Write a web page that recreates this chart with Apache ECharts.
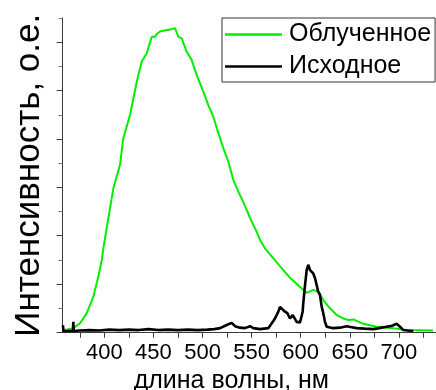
<!DOCTYPE html>
<html>
<head>
<meta charset="utf-8">
<script src="https://cdn.jsdelivr.net/npm/echarts@6/dist/echarts.min.js"></script>
<style>
  html, body { margin: 0; padding: 0; background: #fff; }
  #chart { width: 436px; height: 390px; }
</style>
</head>
<body>
<div id="chart"></div>
<script>
// Spectra: wavelength (nm) and intensity (arb. units)
const irradiatedWl = [360.0, 368.4, 375.3, 382.1, 388.8, 393.9, 397.4, 399.0, 405.8, 409.2, 416.0, 419.3, 426.2, 433.0, 438.1, 443.2, 448.3, 450.0, 451.7, 453.4, 455.0, 456.7, 458.4, 463.5, 466.9, 472.0, 473.7, 475.4, 478.8, 483.9, 489.0, 494.1, 500.8, 505.9, 511.0, 514.5, 521.2, 526.3, 531.4, 536.5, 541.5, 548.4, 555.2, 558.6, 563.6, 575.6, 589.1, 599.3, 606.1, 612.8, 617.9, 623.0, 629.8, 636.7, 643.4, 648.5, 653.6, 663.7, 677.4, 694.3, 707.9, 734.7];
const irradiatedVal = [0.05, 0.09, 0.19, 0.40, 0.74, 1.15, 1.50, 1.74, 2.57, 2.98, 3.47, 4.01, 4.50, 5.18, 5.60, 5.77, 6.11, 6.15, 6.11, 6.17, 6.15, 6.22, 6.23, 6.25, 6.26, 6.29, 6.20, 6.11, 6.08, 5.80, 5.63, 5.32, 4.98, 4.70, 4.46, 4.22, 3.81, 3.53, 3.15, 2.91, 2.70, 2.37, 2.08, 1.91, 1.74, 1.45, 1.13, 0.94, 0.82, 0.88, 0.84, 0.67, 0.50, 0.36, 0.29, 0.26, 0.27, 0.18, 0.12, 0.09, 0.05, 0.04];

const initialWl = [357.8, 358.5, 368.0, 368.4, 368.8, 375, 385, 395, 405, 415, 425, 435, 445, 455, 465, 475, 485, 495, 505, 512, 518, 524.6, 529.7, 533.1, 538.2, 543.3, 548.4, 551.7, 558.6, 567.0, 570.5, 573.8, 577.2, 578.9, 580.6, 584.0, 586.4, 589.1, 591.9, 595.9, 599.3, 602.0, 602.6, 604.4, 606.1, 607.7, 609.5, 611.2, 612.8, 614.6, 616.3, 617.9, 619.6, 621.4, 623.0, 624.7, 626.5, 628.1, 633.2, 640, 646.8, 652, 657.0, 665, 673.9, 680, 687.6, 693, 697.8, 701.1, 704.5, 709, 714.7];
const initialVal = [0.15, 0.03, 0.03, 0.22, 0.03, 0.04, 0.05, 0.04, 0.06, 0.05, 0.06, 0.05, 0.07, 0.05, 0.06, 0.05, 0.06, 0.05, 0.06, 0.07, 0.09, 0.155, 0.20, 0.13, 0.10, 0.09, 0.13, 0.09, 0.07, 0.09, 0.19, 0.29, 0.43, 0.53, 0.57, 0.43, 0.40, 0.29, 0.36, 0.22, 0.21, 0.43, 0.60, 0.98, 1.29, 1.40, 1.29, 1.27, 1.22, 1.12, 1.09, 0.84, 0.78, 0.53, 0.40, 0.22, 0.12, 0.11, 0.09, 0.10, 0.13, 0.11, 0.09, 0.08, 0.07, 0.09, 0.12, 0.14, 0.18, 0.12, 0.05, 0.04, 0.03];

const xLabels = [400, 450, 500, 550, 600, 650, 700];
const xTicks = [375, 400, 425, 450, 475, 500, 525, 550, 575, 600, 625, 650, 675, 700, 725];
const yMajor = [0, 1, 2, 3, 4, 5, 6];
const yMinor = [0.5, 1.5, 2.5, 3.5, 4.5, 5.5, 6.5];

const X_MIN = 357.6, X_MAX = 737.8, Y_MIN = 0, Y_MAX = 6.5;
const FONT = 'Liberation Sans, Arial, sans-serif';
const AXIS_COLOR = '#3a3a3a';
const GREEN = '#00ee00';

const zip = (xs, ys) => xs.map((x, i) => [x, ys[i]]);

const chart = echarts.init(document.getElementById('chart'), null, { renderer: 'canvas' });
chart.setOption({
  animation: false,
  backgroundColor: '#fff',
  grid: { left: 62.7, right: 0, top: 18, bottom: 57.5, outerBoundsMode: 'none', containLabel: false },
  legend: {
    orient: 'vertical',
    left: 222,
    top: 18,
    padding: [4, 4, 3, 3],
    itemGap: 7,
    itemWidth: 57,
    itemHeight: 2.4,
    icon: 'rect',
    borderColor: '#333',
    borderWidth: 1,
    backgroundColor: '#fff',
    textStyle: { fontFamily: FONT, fontSize: 25, color: '#000', padding: [0, 0, 0, 2] },
    data: [
      { name: 'Облученное', itemStyle: { color: GREEN } },
      { name: 'Исходное', itemStyle: { color: '#000' } }
    ]
  },
  xAxis: [
    {
      type: 'value', position: 'bottom', min: X_MIN, max: X_MAX,
      name: 'длина волны, нм', nameLocation: 'middle', nameGap: 34,
      nameTextStyle: { fontFamily: FONT, fontSize: 25, color: '#000', padding: [0, 36, 0, 0] },
      axisLine: { show: true, lineStyle: { color: AXIS_COLOR, width: 1 } },
      axisTick: { show: true, inside: false, length: 5, customValues: xTicks, lineStyle: { color: AXIS_COLOR } },
      axisLabel: { show: true, customValues: xLabels, margin: 9, fontFamily: FONT, fontSize: 22, color: '#000' },
      splitLine: { show: false }
    },
    {
      type: 'value', position: 'top', min: X_MIN, max: X_MAX,
      axisLine: { show: true, lineStyle: { color: AXIS_COLOR, width: 1 } },
      axisTick: { show: true, inside: true, length: 5, customValues: xTicks, lineStyle: { color: AXIS_COLOR } },
      axisLabel: { show: false },
      splitLine: { show: false }
    }
  ],
  yAxis: [
    {
      type: 'value', position: 'left', min: Y_MIN, max: Y_MAX,
      name: 'Интенсивность, о.е.', nameLocation: 'middle', nameGap: 16, nameRotate: 90,
      nameTextStyle: { fontFamily: FONT, fontSize: 35, color: '#000' },
      axisLine: { show: true, lineStyle: { color: AXIS_COLOR, width: 1 } },
      axisTick: { show: true, inside: false, length: 6, customValues: yMajor, lineStyle: { color: AXIS_COLOR } },
      axisLabel: { show: false },
      splitLine: { show: false }
    },
    {
      type: 'value', position: 'left', min: Y_MIN, max: Y_MAX,
      axisLine: { show: false },
      axisTick: { show: true, inside: false, length: 4, customValues: yMinor, lineStyle: { color: '#777' } },
      axisLabel: { show: false },
      splitLine: { show: false }
    }
  ],
  series: [
    {
      name: 'Облученное', type: 'line', xAxisIndex: 0, yAxisIndex: 0,
      data: zip(irradiatedWl, irradiatedVal),
      symbol: 'none', smooth: false,
      lineStyle: { color: GREEN, width: 2 },
      itemStyle: { color: GREEN },
      z: 2
    },
    {
      name: 'Исходное', type: 'line', xAxisIndex: 0, yAxisIndex: 0,
      data: zip(initialWl, initialVal),
      symbol: 'none', smooth: false,
      lineStyle: { color: '#000', width: 2.6 },
      itemStyle: { color: '#000' },
      z: 3
    }
  ]
});
</script>
</body>
</html>
